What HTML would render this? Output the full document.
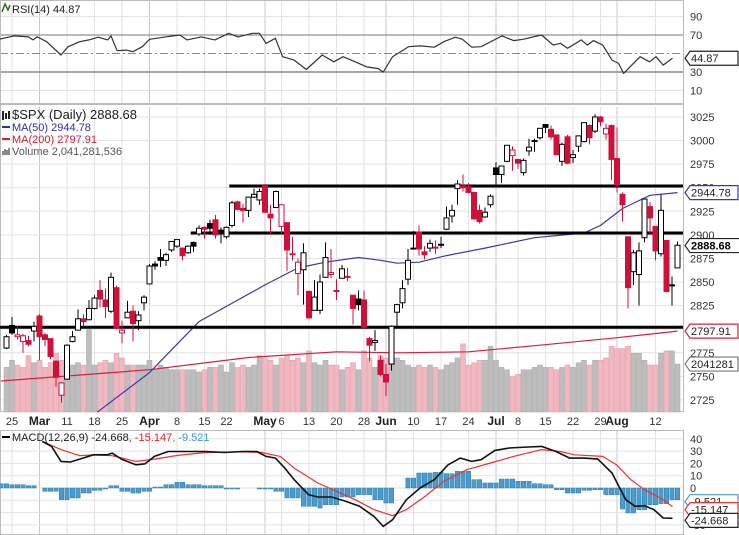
<!DOCTYPE html>
<html><head><meta charset="utf-8"><style>
html,body{margin:0;padding:0;background:#fff;}
svg{display:block;font-family:"Liberation Sans",sans-serif;}
</style></head><body>
<svg id="chart" width="739" height="535" viewBox="0 0 739 535" xmlns="http://www.w3.org/2000/svg">
<rect x="0" y="0" width="739" height="535" fill="#fff"/>
<g id="grid"></g>
<g id="vol"></g>
<g id="rsi"></g>
<g id="price"></g>
<g id="macd"></g>
<g id="axes"></g>
<g id="legend" font-size="11">
  <text x="12" y="13" fill="#222">RSI(14) 44.87</text>
  <path d="M2,12 L5,4 L8,10 L10,5" stroke="#2a6a2a" fill="none" stroke-width="1.5"/>
  <text x="12" y="119" fill="#222" font-size="13">$SPX (Daily) 2888.68</text>
  <path d="M3,111v9M6,113v6M9,111v8" stroke="#222" stroke-width="2"/>
  <line x1="2" y1="127" x2="10" y2="127" stroke="#3030a0" stroke-width="2"/>
  <text x="12" y="131" fill="#3030a0">MA(50) 2944.78</text>
  <line x1="2" y1="139" x2="10" y2="139" stroke="#d0203a" stroke-width="2"/>
  <text x="12" y="143" fill="#d0203a">MA(200) 2797.91</text>
  <path d="M3,151v4M5,149v6M7,150v5M9,148v7" stroke="#666" stroke-width="1.5"/>
  <text x="12" y="155" fill="#555">Volume 2,041,281,536</text>
  <line x1="2" y1="437" x2="10" y2="437" stroke="#000" stroke-width="2"/>
  <text x="12" y="441" fill="#222">MACD(12,26,9) -24.668<tspan fill="#e02020">, -15.147</tspan><tspan fill="#3a9ad0">, -9.521</tspan></text>
</g>
</svg>
<script>
// ---- data ----
const dates = ['2/22','2/25','2/26','2/27','2/28','3/1','3/4','3/5','3/6','3/7','3/8','3/11','3/12','3/13','3/14','3/15','3/18','3/19','3/20','3/21','3/22','3/25','3/26','3/27','3/28','3/29','4/1','4/2','4/3','4/4','4/5','4/8','4/9','4/10','4/11','4/12','4/15','4/16','4/17','4/18','4/22','4/23','4/24','4/25','4/26','4/29','4/30','5/1','5/2','5/3','5/6','5/7','5/8','5/9','5/10','5/13','5/14','5/15','5/16','5/17','5/20','5/21','5/22','5/23','5/24','5/28','5/29','5/30','5/31','6/3','6/4','6/5','6/6','6/7','6/10','6/11','6/12','6/13','6/14','6/17','6/18','6/19','6/20','6/21','6/24','6/25','6/26','6/27','6/28','7/1','7/2','7/3','7/5','7/8','7/9','7/10','7/11','7/12','7/15','7/16','7/17','7/18','7/19','7/22','7/23','7/24','7/25','7/26','7/29','7/30','7/31','8/1','8/2','8/5','8/6','8/7','8/8','8/9','8/12','8/13','8/14','8/15','8/16'];
const opens = [2780,2804,2792,2787,2788,2798,2814,2794,2790,2766,2730,2747,2787,2799,2811,2810,2822,2841,2831,2819,2844,2796,2812,2819,2809,2828,2848,2869,2876,2873,2884,2888,2886,2881,2892,2901,2908,2912,2916,2904,2898,2910,2935,2928,2926,2940,2937,2952,2922,2929,2909,2913,2880,2859,2863,2840,2820,2820,2855,2858,2841,2854,2856,2836,2832,2831,2790,2786,2767,2752,2763,2818,2828,2853,2885,2903,2882,2886,2886,2889,2906,2920,2949,2952,2951,2945,2926,2919,2932,2971,2964,2978,2984,2980,2966,2989,2999,3003,3017,3012,3006,2978,3004,2982,2994,2999,3016,3010,3025,3007,3016,2981,2943,2898,2861,2858,2897,2930,2909,2880,2894,2846,2865];
const highs = [2794,2813,2803,2795,2793,2808,2816,2796,2790,2767,2744,2784,2798,2821,2816,2831,2836,2852,2843,2860,2846,2809,2830,2825,2819,2836,2869,2872,2885,2881,2893,2895,2886,2889,2893,2910,2909,2916,2921,2908,2909,2936,2936,2933,2940,2949,2949,2954,2932,2947,2932,2913,2898,2875,2891,2841,2852,2858,2892,2885,2853,2868,2865,2836,2841,2841,2792,2799,2772,2763,2804,2827,2852,2885,2904,2910,2888,2895,2894,2898,2930,2932,2958,2964,2955,2946,2932,2929,2943,2977,2973,2995,2994,2980,2981,3002,3002,3013,3017,3016,3006,2998,3006,2990,3005,3019,3017,3028,3026,3018,3017,3014,2945,2898,2884,2892,2938,2935,2909,2943,2894,2856,2893];
const lows = [2779,2794,2789,2775,2782,2787,2767,2782,2768,2739,2722,2747,2786,2799,2803,2810,2821,2823,2812,2817,2800,2785,2812,2787,2799,2820,2848,2863,2866,2867,2882,2886,2873,2880,2882,2899,2896,2900,2896,2891,2896,2908,2926,2913,2919,2939,2932,2923,2900,2929,2900,2862,2873,2836,2826,2811,2820,2816,2855,2854,2831,2854,2851,2805,2820,2801,2766,2777,2750,2729,2756,2801,2822,2847,2885,2878,2874,2882,2880,2886,2905,2913,2932,2946,2944,2916,2912,2918,2929,2952,2955,2977,2968,2970,2963,2984,2988,3001,3008,3001,2996,2973,2975,2976,2988,2998,2996,3008,3015,3001,2958,2945,2914,2822,2847,2825,2892,2900,2873,2877,2839,2825,2865];
const closes = [2792,2796,2794,2793,2784,2803,2792,2789,2771,2749,2743,2783,2792,2811,2808,2822,2833,2832,2824,2855,2801,2799,2818,2806,2815,2834,2867,2867,2873,2879,2893,2895,2878,2888,2888,2907,2906,2907,2900,2905,2908,2934,2927,2926,2940,2943,2946,2924,2918,2946,2932,2884,2880,2871,2881,2812,2834,2850,2876,2860,2840,2864,2856,2822,2826,2802,2783,2788,2752,2744,2803,2826,2843,2873,2886,2885,2879,2891,2887,2890,2918,2926,2954,2950,2945,2917,2914,2924,2941,2964,2973,2995,2990,2976,2979,2993,3000,3013,3014,3004,2985,2996,2976,2985,3005,3019,3003,3025,3020,3013,2980,2953,2932,2844,2881,2883,2938,2918,2883,2926,2840,2847,2889];
const volumes = [1.9,2.2,2.0,1.9,2.4,2.1,2.2,1.9,2.1,2.5,2.2,2.0,2.0,2.1,2.0,3.5,2.0,2.1,2.2,2.1,2.5,2.3,2.0,2.0,2.0,2.0,2.2,1.8,2.0,1.9,1.8,1.8,1.8,1.8,1.8,1.7,1.8,1.9,1.9,2.0,1.7,2.1,1.9,2.0,1.9,2.0,2.4,2.3,2.2,2.0,2.3,2.4,2.2,2.3,2.1,2.6,2.1,2.0,2.2,2.0,2.0,1.8,1.9,2.1,1.8,2.6,2.3,1.9,2.4,2.3,2.4,2.3,2.2,2.0,1.9,2.0,1.9,2.0,1.9,1.8,2.0,2.1,2.3,2.9,2.0,2.1,2.2,2.2,2.8,2.2,1.9,1.8,1.5,1.6,1.8,1.8,1.9,2.0,1.9,1.9,1.8,1.9,2.0,1.9,2.1,2.2,2.0,2.2,2.2,2.3,2.8,2.7,2.7,2.8,2.5,2.5,2.2,2.0,2.0,2.5,2.6,2.6,2.04];
const ma50Days = [15.5,25,34,46,52,57,63,67,70,74,79,86,95,104,107,111,116,121];
const ma50Vals = [2712,2754,2808,2847,2865,2871,2876,2873,2870,2871,2878,2886,2897,2902,2910,2928,2942,2944.78];
const ma200Days = [-2,25,43,59,70,83,96,110,121];
const ma200Vals = [2745,2757,2770,2776,2775,2776,2783,2791,2797.91];
const rsiDays = [-2.2,0.4,3,3.8,4.6,6.3,8.9,10.2,12.3,14,15.7,17.4,18,19.1,20.8,22,23.7,25,27.6,30.5,31.8,34.4,36.9,39.4,41.1,43.7,45,46.2,47.9,49.2,51.3,53.5,56.4,58.5,60.2,62.4,64.5,66.6,67.5,69.2,72.1,74.2,76.8,78.5,80.6,81.9,83.6,85.3,89.1,91.2,92.9,96.3,98.4,99.7,101,103.5,104.6,105.7,107.4,109.1,110.3,111.2,112.5,114.2,115.9,117.1,118.4,120.1];
const rsiVals = [65.7,69,68,64.7,68,62.8,48.4,57.4,62.8,64.7,67.6,64.7,69,53,53.7,51.9,57.4,65.3,67.6,70,64.7,68,64.7,71.8,68,71.8,71.8,60.9,66.4,46.5,42.9,32.7,48.4,41,46.5,41,35.5,33.7,30,46.5,57.4,58.2,56.8,62.8,67.6,65.3,56.8,57.4,69,63.9,65.3,70,59.1,61,55.6,64.7,59.1,63.9,59.1,42.9,39.3,28.4,36.4,46.5,41,46.5,37.5,44.87];
const macdDays = [5.5,7.2,8.9,10.6,12.3,14.8,17.4,18.2,19.9,22.5,24.2,25.9,28.4,31.8,35.2,38.6,42,44.5,46.2,47.9,49.6,51.3,53.9,55.6,58.1,60.7,63.2,65.8,67.5,69.2,71.7,74.2,76.8,79.3,81.5,83.6,85.3,87.8,90.4,93.8,96.3,98.9,101.4,104,106.5,109.1,111.6,113.3,115,116.7,118.4,120.1];
const macdVals = [37.9,33.8,21.6,21.1,23.5,27,27,28.4,23.5,18.9,19.7,25.7,29.7,29.7,29.7,28.9,29.7,29.7,25.7,24.3,16.2,6.8,-5.4,-7.3,-7.3,-10.9,-14.9,-23,-31.2,-25.8,-9.5,0,6.8,18.9,24.3,21.6,23,30.6,32.5,33.3,33.8,29.7,24.3,24.3,23.5,12.2,-9.5,-14.9,-14.4,-17.6,-24.4,-24.668];
const signalDays = [5.5,8.9,12.3,14.8,18.2,22.5,25.9,30.1,35.2,42,45.4,48.8,51.3,55.6,59,62.4,65.8,69.2,71.7,75.1,78.5,82.7,87,91.2,96.3,99.7,102.3,107.4,109.9,112.5,115,118.4,120.1];
const signalVals = [37.9,31.2,26.3,26.9,26.3,21.6,23.5,26.5,28.9,29.4,28.9,25.7,16.2,4.1,-2.7,-9.5,-17.6,-22.5,-17.6,-6.8,5.4,14.9,20.3,25.7,31.2,29.7,27,25.7,18.9,6.8,-1.4,-9.5,-15.147];
const histDays = [-2.2,0.4,3,4.6,6.3,8.9,10.6,13.1,14.8,17.4,18.2,19.9,22.5,24.2,25.9,28.4,30.1,31.8,35.2,38.6,42,45.4,47.9,50.5,53,55.6,57.3,59.8,63.2,65.8,67.9,70,71.7,74.2,76.8,79.3,81.5,83.6,86.1,89.5,92.1,95.5,97.2,98.9,101.4,104,106.5,108.2,110.8,112.5,114.2,115.9,118.4,120.1];
const histVals = [3.5,2.7,1.9,0,-2.7,-9.5,-8.1,-4.1,-1.9,-0.8,1.9,-2.7,-4.1,-2.7,0.8,2.7,4.6,2.7,1.9,-0.8,0,-0.8,-2.7,-8.1,-14.9,-16.3,-13.6,-7.3,-5.4,-9.5,-12.2,0,8.1,12.2,12.7,11.7,13.6,6.8,4.1,7.3,5.4,3.5,2.7,-1.4,-4.1,-1.9,-1.4,-5.4,-17.1,-20.3,-17.6,-13.6,-12.7,-9.521];
const priceTicks = [3025,3000,2975,2950,2925,2900,2875,2850,2825,2800,2775,2750,2725];
const rsiTicks = [90,70,50,30,10];
const macdTicks = [40,30,20,10,0,-10,-20,-30];
const dateLabelDays = [0,5,10,15,20,25,30,35,39,46,49,54,59,64,68,73,78,83,88,92,97,102,107,110,117];
const dateLabelText = ['25','Mar','11','18','25','Apr','8','15','22','May','6','13','20','28','Jun','10','17','24','Jul','8','15','22','29','Aug','12'];
const srLevels = [2951.8, 2902, 2802];
const srStartDays = [39.5, 32.5, -3];

// ---- scales ----
const PR = 683;
const xd = d => 12 + d * 5.5;
const yp = p => 117 + (3025 - p) * 0.943;
const yr = v => 35 + (70 - v) * 0.925;
const ym = v => 488 - v * 1.23;
const yv = v => 412 - v * 23.5;
const NS = 'http://www.w3.org/2000/svg';
function mk(tag, attrs, parent) {
  const el = document.createElementNS(NS, tag);
  for (const k in attrs) el.setAttribute(k, attrs[k]);
  parent.appendChild(el);
  return el;
}
const G = id => document.getElementById(id);
const RED = '#d0103a';

// ---- grid ----
const grid = G('grid');
dateLabelDays.forEach((d, i) => {
  const month = isNaN(+dateLabelText[i]);
  [[0, 104], [107, 412], [430, 535]].forEach(r => {
    const l = mk('line', {x1: xd(d), x2: xd(d), y1: r[0], y2: r[1], stroke: month ? '#c8c8c8' : '#e2e2e2', 'stroke-width': 1}, grid);
    
    
  });
});
priceTicks.forEach(p => {
  const l = mk('line', {x1: 0, x2: PR, y1: yp(p), y2: yp(p), stroke: '#e2e2e2'}, grid);
  
  
});
rsiTicks.forEach(v => {
  const st = v === 70 ? {stroke: '#777'} : v === 30 ? {stroke: '#888', 'stroke-width': 1.5} : v === 50 ? {stroke: '#888', 'stroke-dasharray': '8,3,2,3'} : {stroke: '#e2e2e2'};
  const l = mk('line', Object.assign({x1: 0, x2: PR, y1: yr(v), y2: yr(v)}, st), grid);
  
  
});
macdTicks.forEach(v => {
  const l = mk('line', {x1: 0, x2: PR, y1: ym(v), y2: ym(v), stroke: '#e2e2e2'}, grid);
  
  
});
[[0, 104], [104, 412], [430, 535]].forEach(r => {
  const b = mk('rect', {x: 0.5, y: r[0] + 0.5, width: PR, height: r[1] - r[0] - 1, fill: 'none', stroke: '#bbb'}, grid);
  
  
});

// ---- volume ----
const vol = G('vol');
volumes.forEach((v, i) => {
  const down = i > 0 && closes[i] < closes[i - 1];
  const x = xd(i - 1);
  const r = mk('rect', {x: x - 2.5, y: yv(v), width: 5, height: 412 - yv(v), fill: down ? '#f0b8c0' : '#bdbdbd', stroke: down ? '#e79aa6' : '#a8a8a8', 'stroke-width': 0.5}, vol);
  
  
});

// ---- price ----
const price = G('price');
function line(days, vals, yf, color, w, parent, name) {
  const pts = days.map((d, i) => xd(d).toFixed(1) + ',' + yf(vals[i]).toFixed(1)).join(' ');
  const pl = mk('polyline', {points: pts, fill: 'none', stroke: color, 'stroke-width': w, 'stroke-linejoin': 'round'}, parent);
  
  
}
line(ma200Days, ma200Vals, yp, '#d8203e', 1.2, price, 'ma200-line');
line(ma50Days, ma50Vals, yp, '#3a3aa8', 1.2, price, 'ma50-line');
srLevels.forEach((p, i) => {
  const l = mk('line', {x1: Math.max(0, xd(srStartDays[i])), x2: PR, y1: yp(p), y2: yp(p), stroke: '#000', 'stroke-width': 3}, price);
  
  
});
closes.forEach((c, i) => {
  const o = opens[i], x = xd(i - 1);
  const col = i > 0 && c < closes[i - 1] ? RED : '#000';
  const g = mk('g', {}, price);
  
  
  mk('line', {x1: x, x2: x, y1: yp(highs[i]), y2: yp(lows[i]), stroke: col, 'stroke-width': 1}, g);
  const top = yp(Math.max(o, c)), bot = yp(Math.min(o, c));
  mk('rect', {x: x - 2.5, y: top, width: 5, height: Math.max(1, bot - top), fill: c < o ? col : '#fff', stroke: col, 'stroke-width': 1}, g);
});

// ---- rsi ----
line(rsiDays, rsiVals, yr, '#333', 1.2, G('rsi'), 'rsi-line');

// ---- macd ----
const macd = G('macd');
for (let d = -2; d <= 121; d++) {
  let k = 0;
  for (let j = 0; j < histDays.length; j++) if (histDays[j] <= d + 0.5) k = j;
  const v = histVals[k];
  const r = mk('rect', {x: xd(d) - 2.2, y: Math.min(ym(0), ym(v)), width: 4.4, height: Math.abs(ym(v) - ym(0)), fill: '#4a9ccc', stroke: '#2f7aa8', 'stroke-width': 0.5}, macd);
  
  
}
line(signalDays, signalVals, ym, '#f03030', 1.2, macd, 'signal-line');
line(macdDays, macdVals, ym, '#111', 1.6, macd, 'macd-line');

// ---- axes ----
const axes = G('axes');
function lab(x, y, t, extra, name) {
  const e = mk('text', Object.assign({x: x, y: y, 'font-size': 11, fill: '#333'}, extra || {}), axes);
  e.textContent = t;
  
  
}
priceTicks.forEach(p => lab(690, yp(p) + 4, String(p), {}, 'price-tick-label'));
rsiTicks.filter(v => v !== 50).forEach(v => lab(690, yr(v) + 4, String(v), {}, 'rsi-tick-label'));
macdTicks.forEach(v => lab(690, ym(v) + 4, String(v), {}, 'macd-tick-label'));
dateLabelDays.forEach((d, i) => {
  const month = isNaN(+dateLabelText[i]);
  lab(xd(d), 425, dateLabelText[i], month ? {'text-anchor': 'middle', 'font-weight': 'bold', 'font-size': 12, fill: '#222'} : {'text-anchor': 'middle'}, 'date-label');
});
function tag(y, t, color, bold, name) {
  const w = bold ? 50 : 48;
  const p = mk('path', {d: `M${PR + 2},${y} L${PR + 7},${y - 7} L${PR + 7 + w},${y - 7} L${PR + 7 + w},${y + 7} L${PR + 7},${y + 7} Z`, fill: '#fff', stroke: color, 'stroke-width': 1.2}, axes);
  
  
  lab(PR + 8, y + 4, t, bold ? {'font-weight': 'bold', fill: '#000'} : {fill: '#222'}, name);
}
tag(yr(44.87), '44.87', '#222', false, 'rsi-value-tag');
tag(yp(2944.78), '2944.78', '#3a3aa8', false, 'ma50-value-tag');
tag(yp(2888.68), '2888.68', '#222', true, 'price-value-tag');
tag(yp(2797.91), '2797.91', '#d8203e', false, 'ma200-value-tag');
tag(yv(2.04), '2041281', '#777', false, 'volume-value-tag');
tag(ym(-9.521) + 2, '-9.521', '#4a9ccc', false, 'hist-value-tag');
tag(ym(-15.147) + 3, '-15.147', '#f03030', false, 'signal-value-tag');
tag(ym(-24.668) + 2, '-24.668', '#222', false, 'macd-value-tag');
</script>
</body></html>
